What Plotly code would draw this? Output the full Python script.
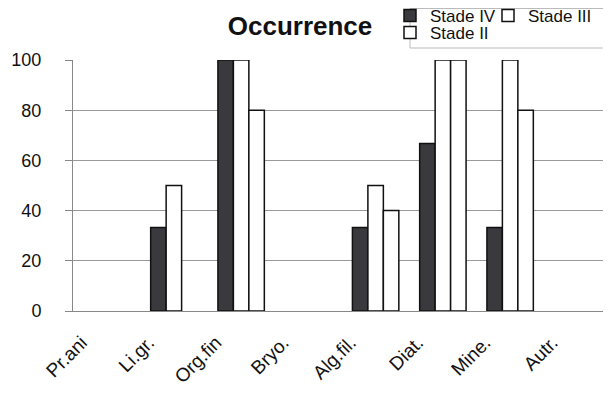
import plotly.graph_objects as go

categories = ["Pr.ani", "Li.gr.", "Org.fin", "Bryo.", "Alg.fil.", "Diat.", "Mine.", "Autr."]
stade_iv = [0, 33.3, 100, 0, 33.3, 66.7, 33.3, 0]
stade_iii = [0, 50, 100, 0, 50, 100, 100, 0]
stade_ii = [0, 0, 80, 0, 40, 100, 80, 0]


def shown(vals):
    # zero-height bars are not drawn in the original chart
    return [v if v > 0 else None for v in vals]


fig = go.Figure()
fig.add_trace(go.Bar(name="Stade IV", x=categories, y=shown(stade_iv), legend="legend",
                     marker=dict(color="#3a3a3e", line=dict(color="#111", width=1.5))))
fig.add_trace(go.Bar(name="Stade III", x=categories, y=shown(stade_iii), legend="legend3",
                     marker=dict(color="white", line=dict(color="#111", width=1.5))))
fig.add_trace(go.Bar(name="Stade II", x=categories, y=shown(stade_ii), legend="legend2",
                     marker=dict(color="white", line=dict(color="#111", width=1.5))))

# the page shifts the figure 8px down; size the figure so it fits the window
OFF_Y = 8
W, H = 611, 397 - OFF_Y
L, R, T, B = 65, 8, 60 - OFF_Y, 86
pw, ph = W - L - R, H - T - B


def cx(px):
    return px / W


def cy(py):
    return 1 - (py - OFF_Y) / H


legend_common = dict(orientation="h", xref="container", yref="container",
                     xanchor="left", yanchor="middle", font=dict(size=17),
                     bgcolor="rgba(0,0,0,0)", borderwidth=0, itemwidth=30,
                     traceorder="normal")

fig.update_layout(
    width=W, height=H,
    margin=dict(l=L, r=R, t=T, b=B, autoexpand=False),
    paper_bgcolor="white", plot_bgcolor="white",
    font=dict(family="Liberation Sans, Arial, sans-serif", color="#111"),
    barmode="group", bargap=0.31, bargroupgap=0,
    title=dict(text="<b>Occurrence</b>", x=cx(292), xref="container", xanchor="center",
               y=cy(26), yref="container", yanchor="middle", font=dict(size=26)),
    legend=dict(x=cx(382), y=cy(16), **legend_common),
    legend3=dict(x=cx(480), y=cy(16), **legend_common),
    legend2=dict(x=cx(382), y=cy(33), **legend_common),
    showlegend=True,
    shapes=[dict(type="rect", xref="paper", yref="paper",
                 x0=(402 - L) / pw, x1=(597 - L) / pw,
                 y0=(H - B - (48 - OFF_Y)) / ph, y1=(H - B - 0.5) / ph,
                 line=dict(color="#bbb", width=1), fillcolor="rgba(0,0,0,0)")],
)
fig.update_yaxes(range=[0, 100], tickvals=[0, 20, 40, 60, 80, 100],
                 showgrid=True, gridcolor="#999", gridwidth=1,
                 showline=True, linecolor="#888", linewidth=1,
                 ticks="outside", ticklen=7, tickcolor="#888", ticklabelstandoff=20,
                 tickfont=dict(size=18), zeroline=False)
fig.update_xaxes(showline=True, linecolor="#888", linewidth=1, ticks="",
                 tickangle=-45, tickfont=dict(size=19), ticklabelshift=-25,
                 ticklabelstandoff=12)

fig.write_html("out.html")
